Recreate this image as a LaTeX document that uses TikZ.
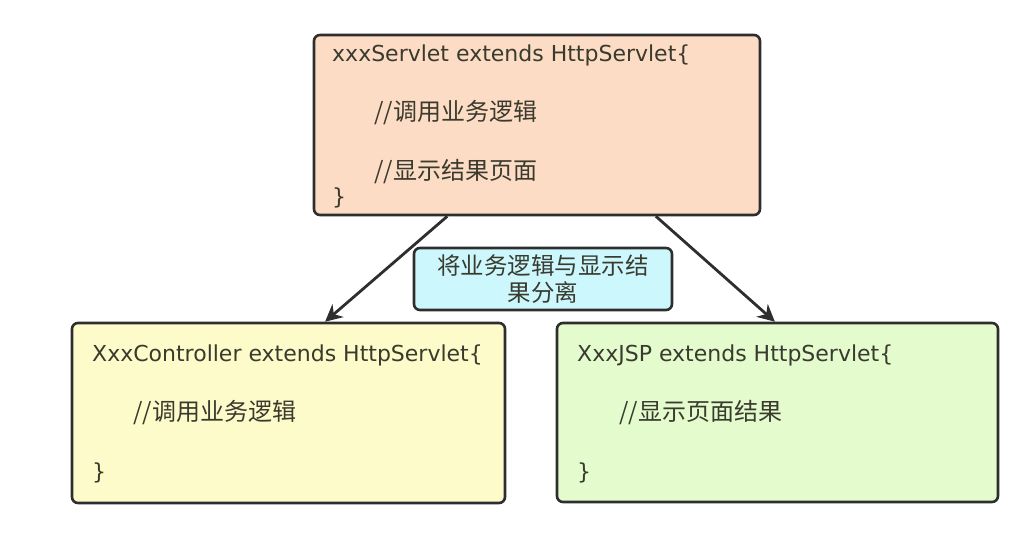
\documentclass[tikz,border=0pt]{standalone}
\usepackage{fontspec}
\setmainfont{Noto Sans CJK SC}
\newfontfamily\latinfont{DejaVu Sans}
\usetikzlibrary{arrows.meta,calc}
\definecolor{txt}{HTML}{3A3A2E}
\definecolor{edge}{HTML}{2E2E2E}
\definecolor{peach}{HTML}{FCDCC4}
\definecolor{lemon}{HTML}{FDFBC9}
\definecolor{mint}{HTML}{E3FBCD}
\definecolor{aqua}{HTML}{CCF8FD}
\tikzset{
  box/.style={draw=edge, line width=2.6pt, rounded corners=6pt, inner sep=0pt},
  code/.style={anchor=west, inner sep=0pt, text=txt, font=\fontsize{24}{28}\selectfont},
  lat/.style={code, font=\latinfont\fontsize{22}{26}\selectfont},
  lbl/.style={box, text=txt, align=center, font=\fontsize{23.5}{27}\selectfont},
  arr/.style={draw=edge, line width=2.8pt, -{Stealth[length=17pt,width=17pt]}}
}
\begin{document}
\begin{tikzpicture}[x=1pt,y=-1pt]
\useasboundingbox (0,0) rectangle (1030,540);
\fill[white] (0,0) rectangle (1030,540);
\node[box, fill=peach, minimum width=446pt, minimum height=180pt] (top) at (537,125) {};
\node[box, fill=lemon, minimum width=433pt, minimum height=180pt] (left) at (288.5,413) {};
\node[box, fill=mint, minimum width=441pt, minimum height=179pt] (right) at (777.5,412.5) {};
\node[lbl, fill=aqua, minimum width=258pt, minimum height=62pt] (sep) at (543,279) {将业务逻辑与显示结\\果分离};

\node[lat] (t1) at (332,55) {xxxServlet extends HttpServlet\{};
\node[code] (t2) at (374,113) {//调用业务逻辑};
\node[code] (t3) at (374,172) {//显示结果页面};
\node[lat] (t4) at (332,198) {\}};

\node[lat] (l1) at (92,355) {XxxController extends HttpServlet\{};
\node[code] (l2) at (133,413) {//调用业务逻辑};
\node[lat] (l3) at (92,473) {\}};

\node[lat] (r1) at (577,355) {XxxJSP extends HttpServlet\{};
\node[code] (r2) at (619,413) {//显示页面结果};
\node[lat] (r3) at (577,473) {\}};

\draw[arr] ($(top.south west)!0.30!(top.south east)$) -- ($(left.north west)!0.584!(left.north east)$);
\draw[arr] ($(top.south west)!0.765!(top.south east)$) -- ($(right.north west)!0.494!(right.north east)$);
\end{tikzpicture}
\end{document}
